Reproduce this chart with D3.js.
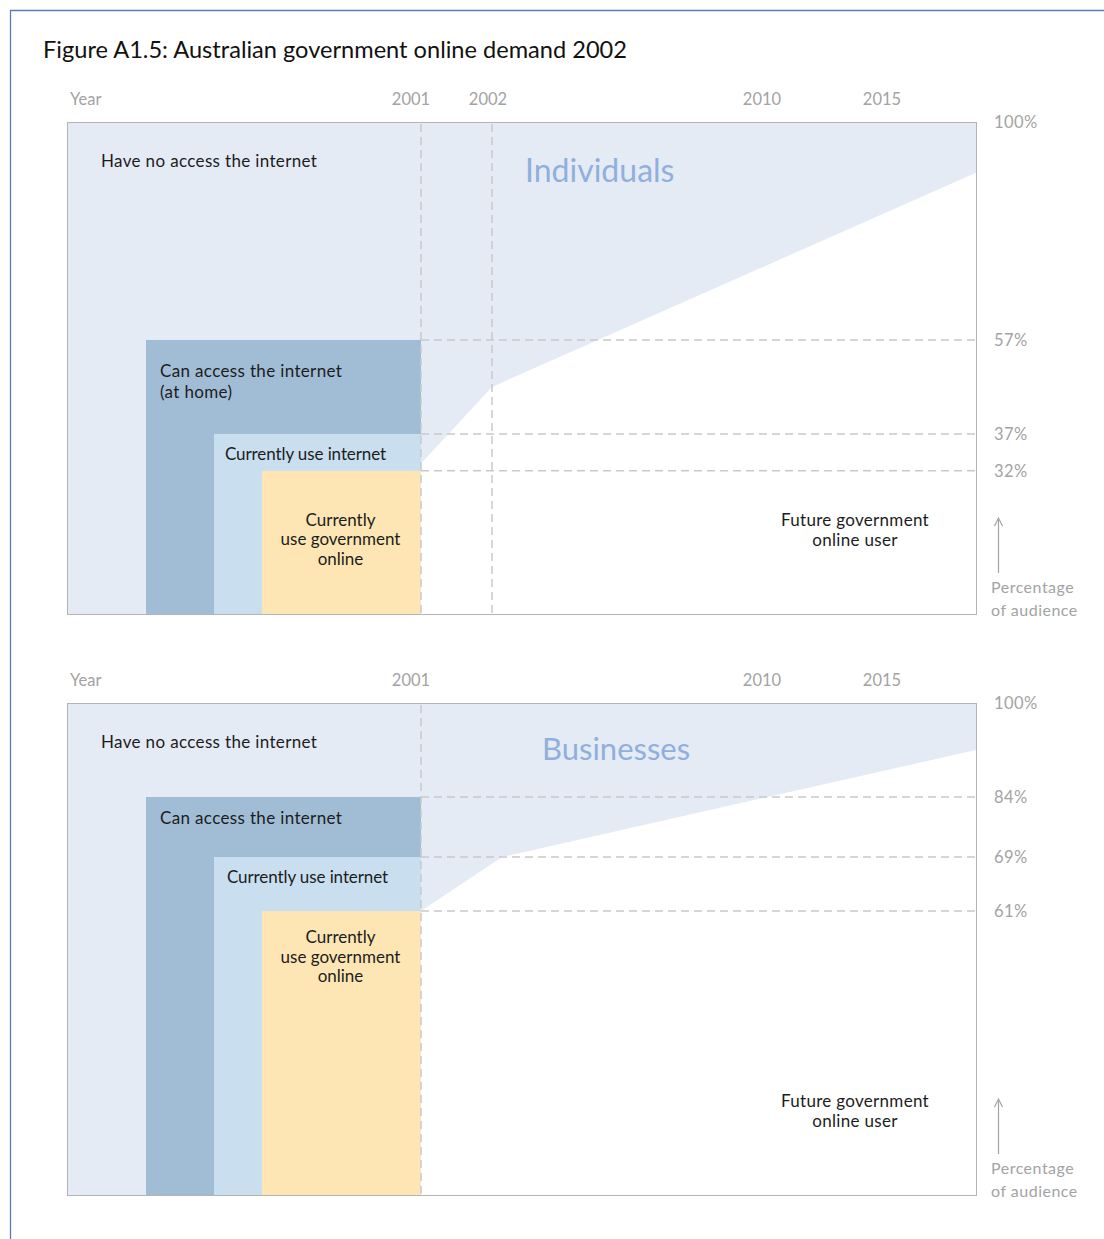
<!DOCTYPE html>
<html>
<head>
<meta charset="utf-8">
<script src="https://cdn.jsdelivr.net/npm/d3@7"></script>
<style>
  html, body { margin: 0; padding: 0; background: #fff; }
  svg { display: block; }
  text { font-family: Lato, "Open Sans", sans-serif; }
</style>
</head>
<body>
<svg id="chart" width="1104" height="1239"></svg>
<script>
// ---- Data ----
const chartTitle = "Figure A1.5: Australian government online demand 2002";
const audienceCategories = [
  "Have no access the internet",
  "Can access the internet",
  "Currently use internet",
  "Currently use government online"
];

// Individuals
const individualsLabels = [
  ["Have no access the internet"],
  ["Can access the internet", "(at home)"],
  ["Currently use internet"],
  ["Currently", "use government", "online"]
];
const individualsShares = [100, 57, 37, 32];
const individualsYears = [2001, 2002, 2010, 2015];
const individualsProjYears = [2001, 2002, 2019];
const individualsProjShares = [33, 47, 90];

// Businesses
const businessesLabels = [
  ["Have no access the internet"],
  ["Can access the internet"],
  ["Currently use internet"],
  ["Currently", "use government", "online"]
];
const businessesShares = [100, 84, 69, 61];
const businessesYears = [2001, 2010, 2015];
const businessesProjYears = [2001, 2002.3, 2019];
const businessesProjShares = [61, 69, 92];

const futureLabel = ["Future government", "online user"];
const audienceLabel = ["Percentage", "of audience"];

// ---- Styling ----
const colors = {
  frame: "#5a7db3",
  border: "#b4b4b4",
  grid: "#c9c9c9",
  axisText: "#a3a3a3",
  text: "#1c1c1c",
  heading: "#8fb0dc",
  boxes: ["#e5ebf5", "#a1bcd5", "#c9deef", "#fde6b4"]
};
const labelSpacing = [0.35, 0.35, -0.1, 0];

const svg = d3.select("#chart");

// outer page frame (top and left rules)
svg.append("path")
  .attr("d", "M10.5,1239 V10.5 H1104")
  .attr("fill", "none")
  .attr("stroke", colors.frame)
  .attr("stroke-width", 1.3);

svg.append("text")
  .attr("x", 43).attr("y", 58)
  .attr("font-size", 23.6)
  .attr("fill", "#111")
  .text(chartTitle);

// year axis: schematic, piecewise linear between the marked years
const xScale = d3.scaleLinear()
  .domain([2001, 2002, 2010, 2015, 2019])
  .range([421, 492, 762, 882, 976]);

const plotLeft = 67, plotRight = 976, plotHeight = 492;

// horizontal nesting of the boxes (offset from plot left)
const nestScale = d3.scaleOrdinal()
  .domain(audienceCategories)
  .range([0, 79, 147, 195]);

function drawPanel(cfg) {
  const g = svg.append("g");
  const top = cfg.top, bottom = cfg.top + plotHeight;

  // schematic share axis: piecewise linear through the marked shares
  const asc = cfg.shares.slice().sort((a, b) => a - b);
  const yScale = d3.scaleLinear()
    .domain([0, ...asc])
    .range([bottom, ...cfg.levels.map(f => bottom - f * plotHeight)]);

  // plot background
  g.append("rect")
    .attr("x", plotLeft).attr("y", top)
    .attr("width", plotRight - plotLeft).attr("height", plotHeight)
    .attr("fill", "#fff");

  // projected region of audience without government online use
  const proj = cfg.projYears.map((yr, i) => [xScale(yr), yScale(cfg.projShares[i])]);
  const area = [[xScale(2001), yScale(100)], [xScale(2019), yScale(100)], ...proj.slice().reverse()];
  g.append("path")
    .attr("d", d3.line()(area) + "Z")
    .attr("fill", colors.boxes[0]);

  // nested boxes
  audienceCategories.forEach((cat, i) => {
    const x0 = plotLeft + nestScale(cat);
    g.append("rect")
      .attr("x", x0)
      .attr("y", yScale(cfg.shares[i]))
      .attr("width", xScale(2001) - x0)
      .attr("height", bottom - yScale(cfg.shares[i]))
      .attr("fill", colors.boxes[i]);
  });

  // dashed share guides
  const dash = "8,5";
  cfg.shares.filter(s => s < 100).forEach(s => {
    g.append("line")
      .attr("x1", xScale(2001)).attr("x2", plotRight)
      .attr("y1", yScale(s)).attr("y2", yScale(s))
      .attr("stroke", colors.grid).attr("stroke-width", 1.5)
      .attr("stroke-dasharray", dash);
  });
  // dashed year guides
  cfg.years.filter(y => y < 2010).forEach(y => {
    g.append("line")
      .attr("x1", xScale(y)).attr("x2", xScale(y))
      .attr("y1", top + 2).attr("y2", bottom)
      .attr("stroke", colors.grid).attr("stroke-width", 1.5)
      .attr("stroke-dasharray", dash);
  });

  // plot border
  g.append("rect")
    .attr("x", plotLeft + 0.5).attr("y", top + 0.5)
    .attr("width", plotRight - plotLeft).attr("height", plotHeight)
    .attr("fill", "none")
    .attr("stroke", colors.border).attr("stroke-width", 1);

  // year labels
  g.append("text")
    .attr("x", 70).attr("y", top - 17)
    .attr("font-size", 16.5).attr("fill", colors.axisText)
    .text("Year");
  g.selectAll(".yr").data(cfg.years).enter().append("text")
    .attr("x", d => xScale(d) - (d === 2001 ? 10 : d === 2002 ? 4 : 0))
    .attr("y", top - 17)
    .attr("text-anchor", "middle")
    .attr("font-size", 16.5).attr("fill", colors.axisText)
    .text(d => d);

  // share labels
  g.selectAll(".pct").data(cfg.shares).enter().append("text")
    .attr("x", 994)
    .attr("y", d => yScale(d))
    .attr("dy", "0.35em")
    .attr("font-size", 16.5).attr("letter-spacing", 0.4)
    .attr("fill", colors.axisText)
    .text(d => d + "%");

  // percentage-of-audience arrow
  const ay = bottom - 96;
  g.append("line")
    .attr("x1", 998.5).attr("x2", 998.5)
    .attr("y1", ay + 2).attr("y2", ay + 55)
    .attr("stroke", colors.axisText).attr("stroke-width", 1.2);
  g.append("path")
    .attr("d", `M994.5,${ay + 8} L998.5,${ay} L1002.5,${ay + 8}`)
    .attr("fill", "none")
    .attr("stroke", colors.axisText).attr("stroke-width", 1.2);
  audienceLabel.forEach((t, i) => {
    g.append("text")
      .attr("x", 991).attr("y", bottom - 21 + i * 23)
      .attr("font-size", 16).attr("letter-spacing", 0.5)
      .attr("fill", colors.axisText)
      .text(t);
  });

  // panel heading
  g.append("text")
    .attr("x", cfg.headingX).attr("y", top + cfg.headingDy)
    .attr("font-size", cfg.headingSize).attr("fill", colors.heading)
    .text(cfg.heading);

  // box labels
  cfg.labels.forEach((lines, i) => {
    const x0 = plotLeft + nestScale(audienceCategories[i]);
    const isCentered = i === 3;
    const tx = isCentered ? (x0 + xScale(2001)) / 2 - 1 : (i === 0 ? x0 + 34 : x0 + cfg.labelDx[i]);
    const ty = (i === 0 ? top : yScale(cfg.shares[i])) + cfg.labelDy[i];
    lines.forEach((t, j) => {
      g.append("text")
        .attr("x", tx).attr("y", ty + j * (isCentered ? 19.5 : 21.5))
        .attr("text-anchor", isCentered ? "middle" : "start")
        .attr("font-size", 17).attr("letter-spacing", labelSpacing[i])
        .attr("fill", colors.text)
        .text(t);
    });
  });

  // future user label
  futureLabel.forEach((t, j) => {
    g.append("text")
      .attr("x", 855).attr("y", bottom - 88 + j * 20)
      .attr("text-anchor", "middle")
      .attr("font-size", 17).attr("letter-spacing", 0.3)
      .attr("fill", colors.text)
      .text(t);
  });
}

drawPanel({
  top: 122,
  shares: individualsShares,
  levels: [0.291, 0.366, 0.557, 1],
  years: individualsYears,
  projYears: individualsProjYears,
  projShares: individualsProjShares,
  labels: individualsLabels,
  labelDx: [0, 14, 11, 0],
  labelDy: [45, 37, 26, 55],
  heading: "Individuals",
  headingX: 525,
  headingDy: 60,
  headingSize: 32
});

drawPanel({
  top: 703,
  shares: businessesShares,
  levels: [0.577, 0.687, 0.809, 1],
  years: businessesYears,
  projYears: businessesProjYears,
  projShares: businessesProjShares,
  labels: businessesLabels,
  labelDx: [0, 14, 13, 0],
  labelDy: [45, 27, 26, 32],
  heading: "Businesses",
  headingX: 542,
  headingDy: 57,
  headingSize: 31
});
</script>
</body>
</html>
